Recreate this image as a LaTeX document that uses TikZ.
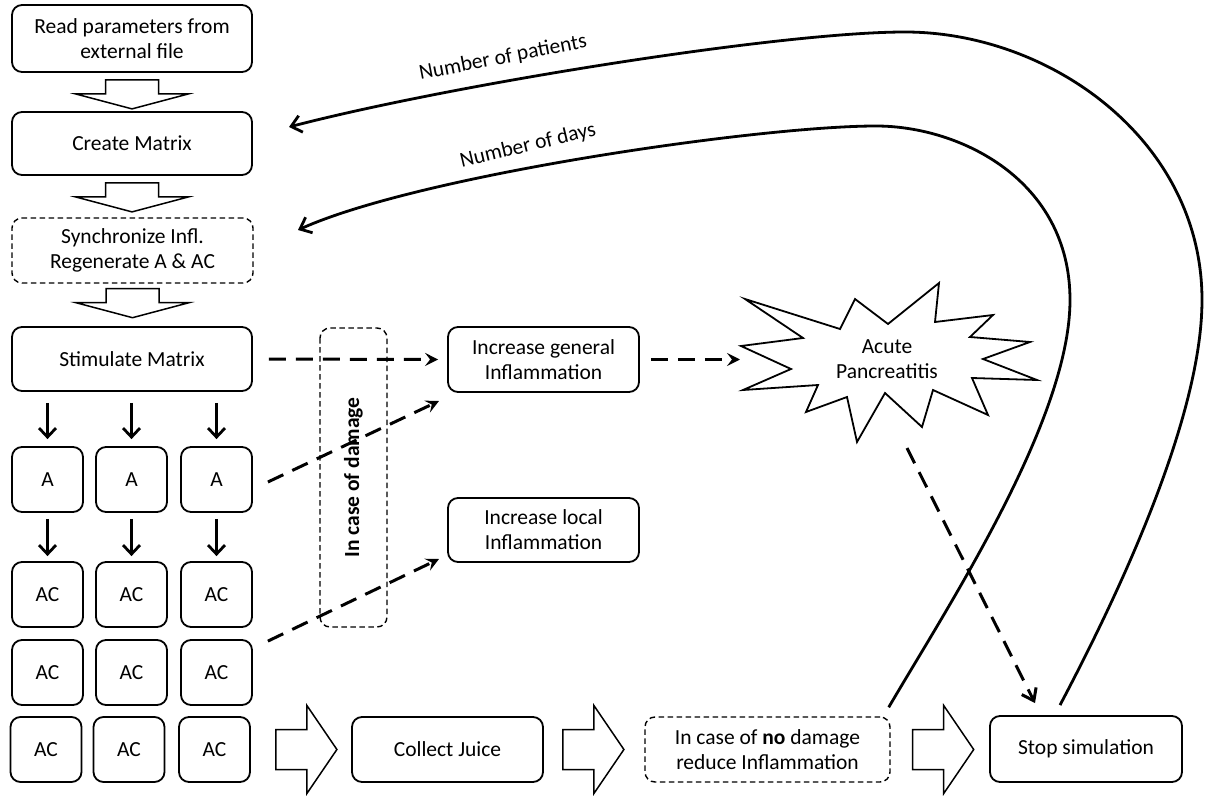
\documentclass[tikz,border=0pt]{standalone}
\usepackage{fontspec}
\setmainfont{Carlito}
\usetikzlibrary{arrows.meta,calc}
\begin{document}
\begin{tikzpicture}[x=1pt,y=-1pt,
  txt/.style={font=\fontsize{21.5}{25}\selectfont},
  box/.style={txt, draw, rounded corners=10pt, line width=1.8pt, align=center, inner sep=0pt},
  dbox/.style={box, dash pattern=on 5.5pt off 3.5pt, line width=1.4pt},
  cell/.style={box, minimum width=71pt, minimum height=65pt},
  blk/.style={draw, line width=1.5pt, fill=white, line join=miter},
  down/.style={line width=2.8pt, -{Straight Barb[length=9pt,width=17pt]}},
  dsh/.style={line width=3pt, dash pattern=on 17pt off 10pt, -{Stealth[length=13pt,width=13pt,inset=5pt]}},
  dshb/.style={line width=3pt, dash pattern=on 17pt off 10pt, -{Straight Barb[length=11pt,width=16pt]}},
  curve/.style={line width=2.8pt, -{Straight Barb[length=10pt,width=17pt]}},
  pics/bigdown/.style={code={\draw[blk] (-26.5,0) -- (26.5,0) -- (26.5,14) -- (56.5,14) -- (0,29) -- (-56.5,14) -- (-26.5,14) -- cycle;}},
  pics/bigright/.style={code={\draw[blk] (0,-20) -- (31,-20) -- (31,-44) -- (61,0) -- (31,44) -- (31,20) -- (0,20) -- cycle;}}
]
\useasboundingbox (0,0) rectangle (1211,797);

% left column
\node[box, minimum width=240pt, minimum height=67pt] (read) at (132,38.5) {Read parameters from\\external file};
\node[box, minimum width=240pt, minimum height=63pt] (create) at (132,143.5) {Create Matrix};
\node[dbox, minimum width=241pt, minimum height=65pt] (sync) at (132.5,250.5) {Synchronize Infl.\\Regenerate A \& AC};
\node[box, minimum width=240pt, minimum height=64pt] (stim) at (132,359) {Stimulate Matrix};

\pic at ($(read.south)+(0,7)$) {bigdown};
\pic at ($(create.south)+(0,7)$) {bigdown};
\pic at ($(sync.south)+(0,5)$) {bigdown};

% matrix cells
\node[cell] (a1) at (47.5,479.5) {A};
\node[cell] (a2) at (131.5,479.5) {A};
\node[cell] (a3) at (216.5,479.5) {A};
\node[cell] (c11) at (47.5,594.5) {AC};
\node[cell] (c12) at (131.5,594.5) {AC};
\node[cell] (c13) at (216.5,594.5) {AC};
\node[cell] (c21) at (47.5,672.5) {AC};
\node[cell] (c22) at (131.5,672.5) {AC};
\node[cell] (c23) at (216.5,672.5) {AC};
\node[cell] (c31) at (46,749.5) {AC};
\node[cell] (c32) at (129,749.5) {AC};
\node[cell] (c33) at (214.5,749.5) {AC};

\foreach \n in {a1,a2,a3}
  \draw[down, shorten <=11pt, shorten >=7pt] (\n.north |- stim.south) -- (\n.north);
\draw[down, shorten <=6pt, shorten >=5pt] (a1.south) -- (c11.north);
\draw[down, shorten <=6pt, shorten >=5pt] (a2.south) -- (c12.north);
\draw[down, shorten <=6pt, shorten >=5pt] (a3.south) -- (c13.north);

% damage box
\node[dbox, rotate=90, minimum width=299pt, minimum height=67pt, font=\fontsize{21.5}{25}\selectfont\bfseries] (dmg) at (353.5,477.5) {In case of damage};

% inflammation boxes
\node[box, minimum width=191pt, minimum height=65pt] (gen) at (543.5,359.5) {Increase general\\Inflammation};
\node[box, minimum width=191pt, minimum height=64pt] (loc) at (543.5,530) {Increase local\\Inflammation};

% starburst
\draw[line width=1.8pt, line join=miter, fill=white]
  (745,299) -- (840,329) -- (855,299) -- (888,324) -- (939,283) -- (935,322)
  -- (993,315) -- (970,337) -- (1030,342) -- (983,359) -- (1037,380) -- (972,378)
  -- (988,415) -- (933,390) -- (922,427) -- (885,393) -- (857,442) -- (847,397)
  -- (806,412) -- (818,385) -- (743,390) -- (791,369) -- (741,346) -- (803,338) -- cycle;
\node[txt, align=center, inner sep=0pt] (acute) at (887,359.5) {Acute\\Pancreatitis};

% bottom row
\node[box, minimum width=191pt, minimum height=65pt] (collect) at (447.5,749.5) {Collect Juice};
\node[dbox, minimum width=245pt, minimum height=65pt] (nodmg) at (767.5,749.5) {In case of \textbf{no} damage\\reduce Inflammation};
\node[box, minimum width=192pt, minimum height=66pt] (stop) at (1086,749) {Stop simulation};

\pic at ($(c33.east)+(25,0)$) {bigright};
\pic at ($(collect.east)+(19,0)$) {bigright};
\pic at ($(nodmg.east)+(22,0)$) {bigright};

% dashed connectors
\draw[dsh, shorten <=16pt, shorten >=9pt] (stim.east) -- (gen.west);
\coordinate (g1) at ($(a3.east)+(15,2.5)$);
\coordinate (g2) at (439,401);
\draw[dsh] (g1) -- (g2);
\coordinate (l1) at ($(c23.north east)+(15,2)$);
\coordinate (l2) at (439,559);
\draw[dsh] (l1) -- (l2);
\coordinate (ap0) at (740,359.5);
\draw[dsh, shorten <=11pt] (gen.east) -- (ap0);
\coordinate (ap1) at (907,448);
\draw[dshb] (ap1) -- ($(stop.north)+(-51,-12)$);

% feedback curves
\coordinate (pt) at (289,127);
\coordinate (dy) at (298,230);
\draw[curve] ($(stop.north)+(-26,-10)$) .. controls (1115,601) and (1202,420) .. (1202,300)
  .. controls (1202,140) and (1050,32) .. (905,32)
  .. controls (780,32) and (450,85) .. (pt);
\draw[curve] ($(nodmg.north east)+(-2,-9)$) .. controls (948,606) and (1070,420) .. (1070,300)
  .. controls (1070,180) and (960,126) .. (876,126)
  .. controls (760,126) and (420,175) .. (dy);
\node[txt, rotate=11] (lp) at (503,58) {Number of patients};
\node[txt, rotate=13.5] (ld) at (528,146) {Number of days};
\end{tikzpicture}
\end{document}
